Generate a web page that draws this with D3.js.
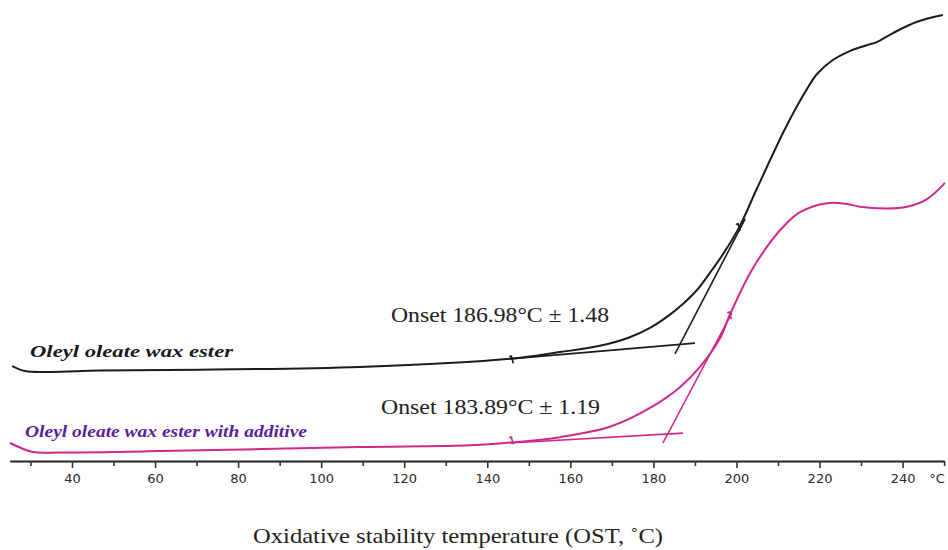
<!DOCTYPE html>
<html>
<head>
<meta charset="utf-8">
<script src="https://cdn.jsdelivr.net/npm/d3@7"></script>
<style>
  body { margin: 0; background: #fff; }
  svg { display: block; }
</style>
</head>
<body>
<div id="chart"></div>
<script>
// temperature (°C) and heat flow (arbitrary units)
var plainTemp = [25.6, 28.7, 34.7, 46.7, 70.8, 109.3, 145.5, 157.5, 167.1, 174.0, 179.2, 183.5, 187.1, 190.5, 193.6, 197.0, 200.8, 204.9, 211.2, 214.6, 217, 219.4, 223.2, 227.3, 231.4, 233.8, 237.7, 243.5, 249.7];
var plainFlow = [21.1, 20.0, 19.8, 20.1, 20.3, 20.9, 22.7, 24.2, 25.6, 27.4, 29.6, 32.2, 34.9, 38.0, 41.8, 46.3, 52.2, 60.5, 72.9, 78.9, 82.7, 86.0, 89.1, 91.1, 92.4, 93.1, 95.1, 97.6, 99.1];

var additiveTemp = [25.1, 30.6, 37.1, 61.2, 109.3, 135.8, 145.5, 157.5, 169.5, 179.2, 186.4, 191.2, 196.0, 198.4, 203.3, 207.5, 211.2, 215.3, 221.8, 226.6, 229.7, 236.2, 241.1, 245.9, 250.2];
var additiveFlow = [4.0, 2.0, 1.9, 2.2, 3.1, 3.5, 4.1, 5.3, 7.6, 11.8, 16.4, 20.9, 27.2, 32.5, 41.8, 47.8, 52.0, 55.3, 57.3, 57.1, 56.5, 56.1, 56.5, 58.2, 61.8];

// tangent construction lines [t1, v1, t2, v2]
var plainBaseTangent = [145.5, 22.7, 190.0, 26.2];
var plainSteepTangent = [185.2, 23.8, 202.1, 53.8];
var additiveBaseTangent = [145.5, 4.0, 187.1, 6.2];
var additiveSteepTangent = [182.3, 4.0, 198.9, 32.9];

// little marks on the curves [t, v]
var plainMarks = [[146.0, 22.6], [200.6, 52.0]];
var additiveMarks = [[146.0, 4.6], [198.5, 32.4]];

var majorTicks = [40, 60, 80, 100, 120, 140, 160, 180, 200, 220, 240];
var minorTicks = [30, 50, 70, 90, 110, 130, 150, 170, 190, 210, 230, 250];

var labels = ['Oleyl oleate wax ester', 'Oleyl oleate wax ester with additive'];
var onsetLabels = ['Onset 186.98\u00B0C \u00B1 1.48', 'Onset 183.89\u00B0C \u00B1 1.19'];
var axisTitle = 'Oxidative stability temperature (OST, \u02DAC)';

var width = 948, height = 550;

var x = d3.scaleLinear().domain([25, 250]).range([9.7, 944.1]);
var y = d3.scaleLinear().domain([0, 100]).range([461, 11]);

var svg = d3.select('#chart')
  .append('svg')
  .attr('width', width)
  .attr('height', height);

function zip(ts, vs){
  return ts.map(function(t, i){ return [t, vs[i]]; });
}

var line = d3.line()
  .x(function(d){ return x(d[0]); })
  .y(function(d){ return y(d[1]); })
  .curve(d3.curveCatmullRom.alpha(0.5));

var straight = d3.line()
  .x(function(d){ return x(d[0]); })
  .y(function(d){ return y(d[1]); });

function drawSeries(ts, vs, base, steep, marks, color){
  svg.append('path')
    .attr('d', line(zip(ts, vs)))
    .attr('fill', 'none')
    .attr('stroke', color)
    .attr('stroke-width', 2)
    .attr('stroke-linejoin', 'round');

  [base, steep].forEach(function(s){
    svg.append('path')
      .attr('d', straight([[s[0], s[1]], [s[2], s[3]]]))
      .attr('fill', 'none')
      .attr('stroke', color)
      .attr('stroke-width', 1.6);
  });

  svg.selectAll(null)
    .data(marks)
    .enter()
      .append('path')
      .attr('d', function(d){
        var px = x(d[0]), py = y(d[1]);
        return 'M' + (px - 1) + ',' + (py - 4) + 'L' + (px + 1) + ',' + (py + 4) + 'M' + (px - 3) + ',' + (py - 3) + 'L' + px + ',' + (py - 2);
      })
      .attr('fill', 'none')
      .attr('stroke', color)
      .attr('stroke-width', 1.6);
}

drawSeries(plainTemp, plainFlow, plainBaseTangent, plainSteepTangent, plainMarks, '#1c1c1c');
drawSeries(additiveTemp, additiveFlow, additiveBaseTangent, additiveSteepTangent, additiveMarks, '#d1288b');

// x axis
var minorAxis = d3.axisBottom(x)
  .tickValues(minorTicks)
  .tickSize(5)
  .tickSizeOuter(0)
  .tickFormat('');
var majorAxis = d3.axisBottom(x)
  .tickValues(majorTicks)
  .tickSize(7)
  .tickSizeOuter(0)
  .tickPadding(6)
  .tickFormat(d3.format('d'));

var gMinor = svg.append('g').attr('transform', 'translate(0,' + y(0) + ')').call(minorAxis);
var gMajor = svg.append('g').attr('transform', 'translate(0,' + y(0) + ')').call(majorAxis);
gMinor.select('.domain').attr('stroke', '#222').attr('stroke-width', 2.2);
gMajor.select('.domain').remove();
svg.selectAll('.tick line').attr('stroke', '#333').attr('stroke-width', 1.6);
gMajor.selectAll('.tick text')
  .attr('font-family', 'DejaVu Sans, sans-serif')
  .attr('font-size', 13)
  .attr('fill', '#2a2a2a');

svg.append('text')
  .attr('x', 937)
  .attr('y', y(0) + 13)
  .attr('dy', '0.71em')
  .attr('text-anchor', 'middle')
  .attr('font-family', 'DejaVu Sans, sans-serif')
  .attr('font-size', 13)
  .attr('fill', '#2a2a2a')
  .text('\u00B0C');

// series labels
svg.append('text')
  .attr('x', 30).attr('y', 357)
  .attr('font-family', 'Liberation Serif, serif')
  .attr('font-style', 'italic').attr('font-weight', 'bold')
  .attr('font-size', 16)
  .attr('textLength', 203).attr('lengthAdjust', 'spacingAndGlyphs')
  .attr('fill', '#1a1a1a')
  .text(labels[0]);

svg.append('text')
  .attr('x', 25).attr('y', 437)
  .attr('font-family', 'Liberation Serif, serif')
  .attr('font-style', 'italic').attr('font-weight', 'bold')
  .attr('font-size', 16)
  .attr('textLength', 282).attr('lengthAdjust', 'spacingAndGlyphs')
  .attr('fill', '#5a1f9c')
  .text(labels[1]);

// onset labels
svg.append('text')
  .attr('x', 391).attr('y', 322)
  .attr('font-family', 'Liberation Serif, serif')
  .attr('font-size', 21)
  .attr('textLength', 218).attr('lengthAdjust', 'spacingAndGlyphs')
  .attr('fill', '#222')
  .text(onsetLabels[0]);

svg.append('text')
  .attr('x', 381).attr('y', 414)
  .attr('font-family', 'Liberation Serif, serif')
  .attr('font-size', 21)
  .attr('textLength', 219).attr('lengthAdjust', 'spacingAndGlyphs')
  .attr('fill', '#222')
  .text(onsetLabels[1]);

svg.append('text')
  .attr('x', 253).attr('y', 543)
  .attr('font-family', 'Liberation Serif, serif')
  .attr('font-size', 21)
  .attr('textLength', 410).attr('lengthAdjust', 'spacingAndGlyphs')
  .attr('fill', '#222')
  .text(axisTitle);
</script>
</body>
</html>
